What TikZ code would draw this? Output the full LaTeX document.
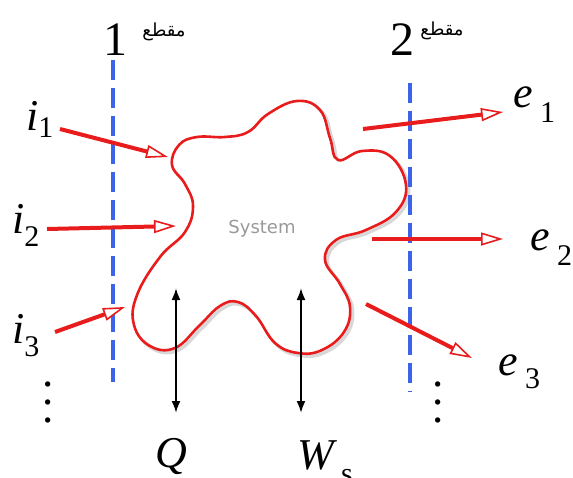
\documentclass[tikz,border=0pt]{standalone}
\usepackage{fontspec}
\setmainfont{Liberation Serif}
\newfontfamily\arabicfont[Script=Arabic]{DejaVu Sans}
\newfontfamily\sysfont{DejaVu Sans}
\TeXXeTstate=1
\usetikzlibrary{arrows.meta}
\definecolor{secblue}{RGB}{60,100,235}
\definecolor{flowred}{RGB}{232,28,28}
\begin{document}
\begin{tikzpicture}[x=1pt,y=-1pt,
  flow/.style={draw=flowred, line width=4pt,
    -{Triangle[length=22pt, width=13pt, line width=1.6pt, fill=white]}},
  section/.style={draw=secblue, line width=3.4pt, dash pattern=on 20pt off 8pt},
  work/.style={draw=black, line width=2pt,
    {Latex[length=12pt,width=9pt]}-{Latex[length=12pt,width=9pt]}},
  lab/.style={font=\fontsize{44}{44}\selectfont\itshape, anchor=base west, inner sep=0pt},
  num/.style={font=\fontsize{48}{48}\selectfont, anchor=base west, inner sep=0pt},
  ar/.style={font=\arabicfont\fontsize{18}{18}\selectfont, inner sep=0pt},
  dots/.style={scale=4.5, inner sep=0pt}]
\useasboundingbox (0,0) rectangle (573,477);
\newcommand{\sub}[2]{\raisebox{-#1pt}{\upshape\fontsize{30}{30}\selectfont #2}}

% blob shadow and outline
\def\blobpts{(172,165) (179,145) (197,137) (225,137) (248,132) (268,114) (297,101) (320,110) (330,138) (338,160) (362,151) (390,156) (406,185) (396,212) (366,230) (336,240) (325,260) (340,284) (350,307) (344,332) (322,350) (298,353) (275,343) (256,316) (238,302) (220,306) (199,326) (175,348) (150,346) (134,325) (137,295) (160,257) (185,232) (193,206) (185,184)}
\draw[gray!60, opacity=.5, line width=3.5pt, shift={(2.5,2.5)}] plot[smooth cycle, tension=0.7] coordinates {\blobpts};
\draw[flowred, line width=2.6pt, fill=white] plot[smooth cycle, tension=0.7] coordinates {\blobpts};
\node[font=\sysfont\fontsize{18}{18}\selectfont, text=gray!80] (sys) at (262,229) {System};

% section lines
\coordinate (s1t) at (113,60); \coordinate (s1b) at (113,382);
\coordinate (s2t) at (410,83); \coordinate (s2b) at (410,392);
\draw[section] (s1t) -- (s1b);
\draw[section] (s2t) -- (s2b);
\node[num] (n1) at (103,55) {1};
\node[num] (n2) at (390,55) {2};
\node[ar] (a1) at (164,32) {\beginR مقطع\endR};
\node[ar] (a2) at (442,31) {\beginR مقطع\endR};

% labels
\node[lab] (i1) at (26,130) {i\sub{7}{1}};
\node[lab] (i2) at (12,233) {i\sub{13}{2}};
\node[lab] (i3) at (12,343) {i\sub{13}{3}};
\node[lab] (e1) at (513,107) {e\,\sub{15}{1}};
\node[lab] (e2) at (530,250) {e\,\sub{15}{2}};
\node[lab] (e3) at (498,375) {e\,\sub{13}{3}};
\node[lab] (Q) at (155,467) {Q};
\node[lab] (W) at (297,469) {W\,\sub{14}{s}};
\node[dots] (d1) at (48,389) {$\vdots$};
\node[dots] (d2) at (438,389) {$\vdots$};

% flows
\coordinate (i1s) at (60,129); \coordinate (i1e) at (168,157);
\coordinate (i2s) at (47,229); \coordinate (i2e) at (176,226);
\coordinate (i3s) at (55,332); \coordinate (i3e) at (125,307);
\coordinate (e1s) at (363,129); \coordinate (e1e) at (503,112);
\coordinate (e2s) at (372,239); \coordinate (e2e) at (503,239);
\coordinate (e3s) at (366,304); \coordinate (e3e) at (472,358);
\draw[flow] (i1s) -- (i1e);
\draw[flow] (i2s) -- (i2e);
\draw[flow] (i3s) -- (i3e);
\draw[flow] (e1s) -- (e1e);
\draw[flow] (e2s) -- (e2e);
\draw[flow] (e3s) -- (e3e);

% heat and work
\coordinate (qt) at (176,288); \coordinate (qb) at (176,413);
\coordinate (wt) at (301,288); \coordinate (wb) at (301,413);
\draw[work] (qt) -- (qb);
\draw[work] (wt) -- (wb);
\end{tikzpicture}
\end{document}
